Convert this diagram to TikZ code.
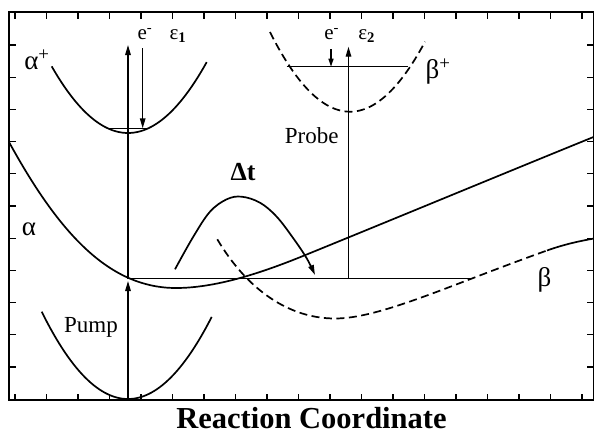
\documentclass[tikz,border=0pt]{standalone}
\usepackage{fontspec}
\setmainfont{Liberation Serif}
\usetikzlibrary{arrows.meta}
\begin{document}
\begin{tikzpicture}[x=1pt,y=-1pt,
  curve/.style={line width=1.7pt},
  dcurve/.style={line width=1.7pt,dash pattern=on 8pt off 4.5pt},
  axis/.style={line width=1.6pt},
  tick/.style={line width=1.2pt},
  vline/.style={line width=1.4pt},
  arr/.style={line width=1.4pt,-{Triangle[length=10pt,width=5.5pt]}},
  lbl/.style={inner sep=0pt,font=\fontsize{23}{25}\selectfont},
  glbl/.style={inner sep=0pt,font=\fontsize{27}{29}\selectfont},
  elbl/.style={inner sep=0pt,font=\fontsize{21}{23}\selectfont}]
\useasboundingbox (0,0) rectangle (594,434);
\fill[white] (0,0) rectangle (594,434);
% frame
\draw[axis] (9,12) rectangle (593.5,400);
\foreach \k in {0,...,18} {
  \draw[tick] ({15+31.5*\k},12) -- ({15+31.5*\k},18.5);
  \draw[tick] ({15+31.5*\k},400) -- ({15+31.5*\k},393.5);
}
\foreach \k in {0,...,10} {
  \draw[tick] (9,{45+32.2*\k}) -- (15.5,{45+32.2*\k});
  \draw[tick] (593.5,{45+32.2*\k}) -- (587,{45+32.2*\k});
}
% ground state parabola
\draw[curve] plot[domain=41.7:211.7,samples=60] (\x,{399-0.01172*(\x-128)^2});
% alpha+ parabola and level
\draw[curve] plot[domain=51.7:206.7,samples=60] (\x,{133-0.01144*(\x-128)^2});
\coordinate (ap1) at (108,128.3);
\coordinate (ap2) at (148.5,128.3);
\draw[vline] (ap1) -- (ap2);
% beta+ parabola (dashed) and level
\draw[dcurve] plot[domain=270:425,samples=60] (\x,{111.7-0.01244*(\x-350)^2});
\coordinate (bp1) at (286.7,66.7);
\coordinate (bp2) at (408.3,66.7);
\draw[vline] (bp1) -- (bp2);
% alpha curve
\draw[curve] (9,142) .. controls (60,235) and (110,288) .. (176,288)
  .. controls (215,288) and (260,273.5) .. (303,256)
  .. controls (400,216.5) and (500,175) .. (593.5,137);
% beta curve
\draw[dcurve] (217.3,239.3) .. controls (248,291) and (290,318.5) .. (335,318.5)
  .. controls (380,318.5) and (450,285) .. (547,250.5);
\draw[curve] (547,250.5) .. controls (565,244.1) and (580,241) .. (594,238.5);
% level line of alpha
\coordinate (al1) at (128,278.7);
\coordinate (al2) at (472,278.7);
\draw[vline] (al1) -- (al2);
% arrows
\coordinate (g0) at (128,399);
\coordinate (pumptip) at (128,281);
\draw[arr] (g0) -- (pumptip);
\coordinate (ionA) at (128,45);
\draw[arr] (al1) -- (ionA);
\coordinate (e1s) at (142.7,48);
\coordinate (e1t) at (142.7,128.3);
\draw[arr] (e1s) -- (e1t);
\coordinate (pr0) at (348.5,278.7);
\coordinate (pr1) at (348.5,46.7);
\draw[arr] (pr0) -- (pr1);
\coordinate (e2s) at (331,49);
\coordinate (e2t) at (331,66.7);
\draw[line width=1.4pt,-{Triangle[length=8pt,width=5pt]}] (e2s) -- (e2t);
% Delta t arrow
\draw[curve,-{Triangle[length=10pt,width=5.5pt]}] plot[smooth,tension=0.6] coordinates {(175,269.3) (193.3,236.7) (210,211.7) (226.7,199.3) (241.7,196.7) (260,202.7) (276.7,216.7) (293.3,238.3) (306.7,258.3) (315,275)};
% labels
\node[glbl] (lap) at (37,60) {α\textsuperscript{+}};
\node[glbl] (la) at (29,229) {α};
\node[glbl] (lbp) at (438,72) {β\textsuperscript{+}};
\node[glbl] (lb) at (544.5,280) {β};
\node[elbl] (le1) at (145,34) {e\textsuperscript{-}};
\node[elbl] (leps1) at (178,36) {ε\textsubscript{\textbf{1}}};
\node[elbl] (le2) at (331.7,34) {e\textsuperscript{-}};
\node[elbl] (leps2) at (366.7,36) {ε\textsubscript{\textbf{2}}};
\node[lbl] (lprobe) at (311.7,136) {Probe};
\node[lbl] (lpump) at (91,327) {Pump};
\node[inner sep=0pt,font=\fontsize{26}{28}\selectfont\bfseries] (ldt) at (243,172) {Δt};
\node[inner sep=0pt,anchor=base,font=\fontsize{30.5}{32}\selectfont\bfseries] (lrc) at (311.5,428.5) {Reaction Coordinate};
\end{tikzpicture}
\end{document}
